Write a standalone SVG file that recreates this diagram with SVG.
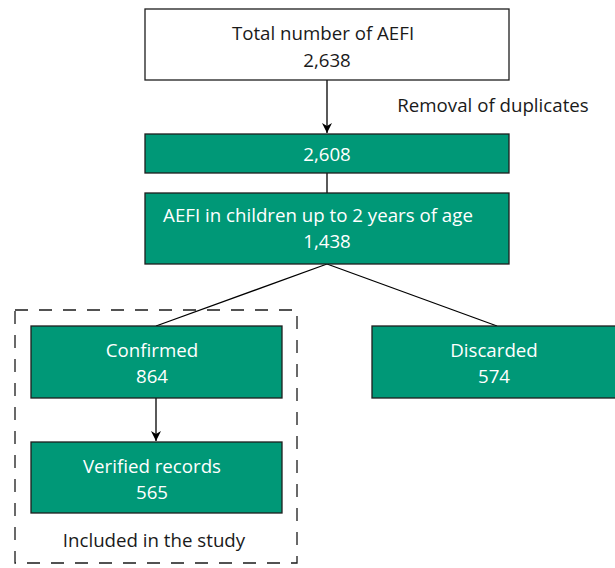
<svg xmlns="http://www.w3.org/2000/svg" width="615" height="568" viewBox="0 0 615 568">
<style>
text{font-family:"Open Sans","Liberation Sans",sans-serif;font-size:18.7px;text-anchor:middle}
.g{fill:#009877;stroke:#1e1e1e;stroke-width:1.3}
.w{fill:#fff;stroke:#1e1e1e;stroke-width:1.3}
.wt{fill:#fff}
.bt{fill:#1a1a1a}
.ln{stroke:#000;stroke-width:1.3;fill:none}
</style>
<defs>
<marker id="ah" viewBox="0 0 10 10" refX="10" refY="5" markerWidth="10" markerHeight="10" markerUnits="userSpaceOnUse" orient="auto">
<path d="M0,0 L10,5 L0,10 L3,5 Z" fill="#000"/>
</marker>
</defs>
<g id="included">
<rect x="15" y="310" width="282" height="253" fill="none" stroke="#1a1a1a" stroke-width="1.3" stroke-dasharray="13,11"/>
<text class="bt" x="154" y="547">Included in the study</text>
</g>
<g id="connectors">
<line class="ln" x1="327" y1="80" x2="327" y2="133" marker-end="url(#ah)"/>
<line class="ln" x1="327" y1="173" x2="327" y2="193"/>
<line class="ln" x1="327" y1="264" x2="156" y2="326"/>
<line class="ln" x1="327" y1="264" x2="497" y2="326"/>
<line class="ln" x1="156" y1="398" x2="156" y2="441" marker-end="url(#ah)"/>
<text class="bt" x="493" y="112">Removal of duplicates</text>
</g>
<g id="total">
<rect class="w" x="145" y="9" width="364" height="71"/>
<text class="bt" x="323" y="40">Total number of AEFI</text>
<text class="bt" x="327" y="67">2,638</text>
</g>
<g id="dedup">
<rect class="g" x="145" y="134" width="364" height="39"/>
<text class="wt" x="327" y="161">2,608</text>
</g>
<g id="children">
<rect class="g" x="145" y="193" width="364" height="71"/>
<text class="wt" x="318" y="222">AEFI in children up to 2 years of age</text>
<text class="wt" x="327" y="248">1,438</text>
</g>
<g id="confirmed">
<rect class="g" x="31" y="326" width="251" height="72"/>
<text class="wt" x="152" y="357">Confirmed</text>
<text class="wt" x="152" y="383">864</text>
</g>
<g id="verified">
<rect class="g" x="31" y="442" width="251" height="71"/>
<text class="wt" x="152" y="473">Verified records</text>
<text class="wt" x="152" y="499">565</text>
</g>
<g id="discarded">
<rect class="g" x="372" y="326" width="250" height="72"/>
<text class="wt" x="494" y="357">Discarded</text>
<text class="wt" x="494" y="383">574</text>
</g>
</svg>
